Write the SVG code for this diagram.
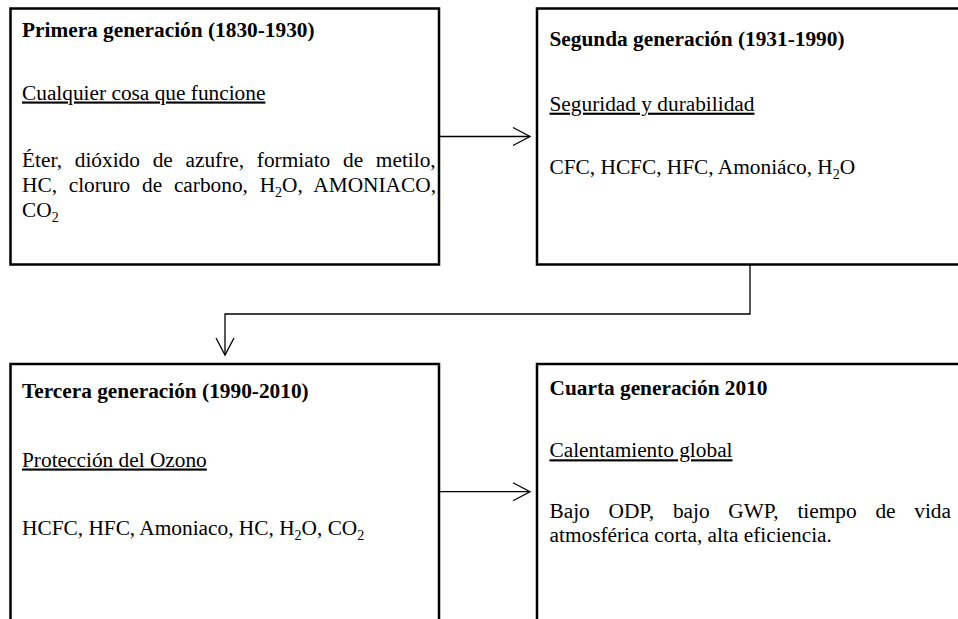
<svg xmlns="http://www.w3.org/2000/svg" width="958" height="619" viewBox="0 0 958 619">
  <style>
    .box { fill: #ffffff; stroke: #000000; stroke-width: 2.5; }
    .conn { fill: none; stroke: #000000; stroke-width: 1.3; }
    text { font-family: "Liberation Serif", "Times New Roman", serif; font-size: 21.33px; fill: #000000; }
    .title { font-weight: bold; }
    .sub { text-decoration: underline; }
  </style>
  <defs>
    <marker id="arrow" markerUnits="userSpaceOnUse" markerWidth="24" markerHeight="24" viewBox="-20 -12 24 24" refX="0" refY="0" orient="auto" overflow="visible">
      <path d="M-17,-9 L0,0 L-17,9" fill="none" stroke="#000000" stroke-width="1.3"/>
    </marker>
  </defs>
  <rect width="958" height="619" fill="#ffffff"/>

  <g id="connectors">
    <path class="conn" d="M440,136.5 H530" marker-end="url(#arrow)"/>
    <path class="conn" d="M750,265 V314 H225 V355" marker-end="url(#arrow)"/>
    <path class="conn" d="M440,491.7 H530" marker-end="url(#arrow)"/>
  </g>

  <g id="node1">
    <rect class="box" x="10.5" y="8.5" width="428.5" height="256"/>
    <text class="title" x="22" y="37">Primera generación (1830-1930)</text>
    <text class="sub" x="22" y="99.5">Cualquier cosa que funcione</text>
    <text x="22" y="167" word-spacing="7.4">Éter, dióxido de azufre, formiato de metilo,</text>
    <text x="22" y="192" word-spacing="6.4">HC, cloruro de carbono, H<tspan font-size="14" dy="4.5">2</tspan><tspan dy="-4.5">O, AMONIACO,</tspan></text>
    <text x="22" y="217">CO<tspan font-size="14" dy="4.5">2</tspan></text>
  </g>

  <g id="node2">
    <rect class="box" x="537" y="8.5" width="430" height="256"/>
    <text class="title" x="549.5" y="46">Segunda generación (1931-1990)</text>
    <text class="sub" x="549.5" y="110.7">Seguridad y durabilidad</text>
    <text x="549.5" y="174">CFC, HCFC, HFC, Amoniáco, H<tspan font-size="14" dy="4.5">2</tspan><tspan dy="-4.5">O</tspan></text>
  </g>

  <g id="node3">
    <rect class="box" x="10.5" y="364" width="428.5" height="270"/>
    <text class="title" x="22" y="398">Tercera generación (1990-2010)</text>
    <text class="sub" x="22" y="466.5">Protección del Ozono</text>
    <text x="22" y="535">HCFC, HFC, Amoniaco, HC, H<tspan font-size="14" dy="4.5">2</tspan><tspan dy="-4.5">O, CO</tspan><tspan font-size="14" dy="4.5">2</tspan></text>
  </g>

  <g id="node4">
    <rect class="box" x="537" y="364" width="430" height="270"/>
    <text class="title" x="549.5" y="395">Cuarta generación 2010</text>
    <text class="sub" x="549.5" y="457.3">Calentamiento global</text>
    <text x="549.5" y="518.3" word-spacing="13.4">Bajo ODP, bajo GWP, tiempo de vida</text>
    <text x="549.5" y="542">atmosférica corta, alta eficiencia.</text>
  </g>
</svg>
